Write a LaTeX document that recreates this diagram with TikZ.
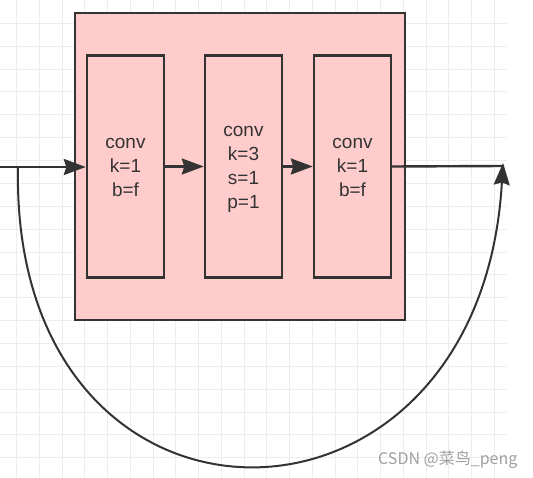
\documentclass[tikz,border=0pt]{standalone}
\usepackage{fontspec}
\setmainfont{Liberation Sans}
\newfontfamily\cjkfont{Noto Sans CJK SC}
\usetikzlibrary{arrows.meta}
\definecolor{pinkfill}{HTML}{FFCCCC}
\definecolor{stroke}{HTML}{333333}
\definecolor{gridc}{HTML}{EDEDED}
\definecolor{wm}{HTML}{A0A0A0}
\tikzset{
  outerbox/.style={draw=stroke, fill=pinkfill, line width=2.4pt, minimum width=330pt, minimum height=307pt, inner sep=0pt},
  convbox/.style={draw=stroke, fill=pinkfill, line width=2.4pt, minimum width=77pt, minimum height=222pt, inner sep=0pt,
    align=center, text=stroke, font=\fontsize{19}{24}\selectfont},
  conn/.style={draw=stroke, line width=2.4pt},
  tip/.style={-{Stealth[length=22pt, width=16pt, inset=2.5pt]}},
  arr/.style={conn, tip},
  gridline/.style={draw=gridc, line width=1pt},
}
\begin{document}
\begin{tikzpicture}[x=1pt, y=-1pt]
\useasboundingbox (0,0) rectangle (533,478);
\fill[white] (0,0) rectangle (533,478);
% grid
\foreach \k in {0,...,21} {
  \draw[gridline] ({16.5+22.75*\k},0) -- ({16.5+22.75*\k},478);
}
\foreach \k in {1,...,20} {
  \draw[gridline] (0,{0.45+22.87*\k}) -- (507,{0.45+22.87*\k});
}
% blocks
\node[outerbox] (blk) at (240,166.5) {};
\node[convbox] (b1) at (125.5,166.5) {\rule{0pt}{16pt}conv\\k=1\\b=f\vphantom{p}};
\node[convbox] (b2) at (243.5,166.5) {\rule{0pt}{16pt}conv\\k=3\\s=1\\p=1};
\node[convbox] (b3) at (352.5,166.5) {\rule{0pt}{16pt}conv\\k=1\\b=f\vphantom{p}};
% connectors
\coordinate (in) at (0,167);
\coordinate (split) at (18,167);
\coordinate (out) at (503,163);
\draw[arr] (in) -- (b1.west |- in);
\draw[arr] (b1.east) -- (b2.west);
\draw[arr] (b2.east) -- (b3.west);
\draw[conn] (b3.east) -- (504,166);
\draw[conn, line width=2pt, tip]
  (split) .. controls (10,565) and (480,565) .. (out);
% watermark
\node[font=\cjkfont\fontsize{16}{18}\selectfont, text=wm, anchor=base west, inner sep=0pt] (wmark) at (378,464) {CSDN @菜鸟\_peng};
\end{tikzpicture}
\end{document}
